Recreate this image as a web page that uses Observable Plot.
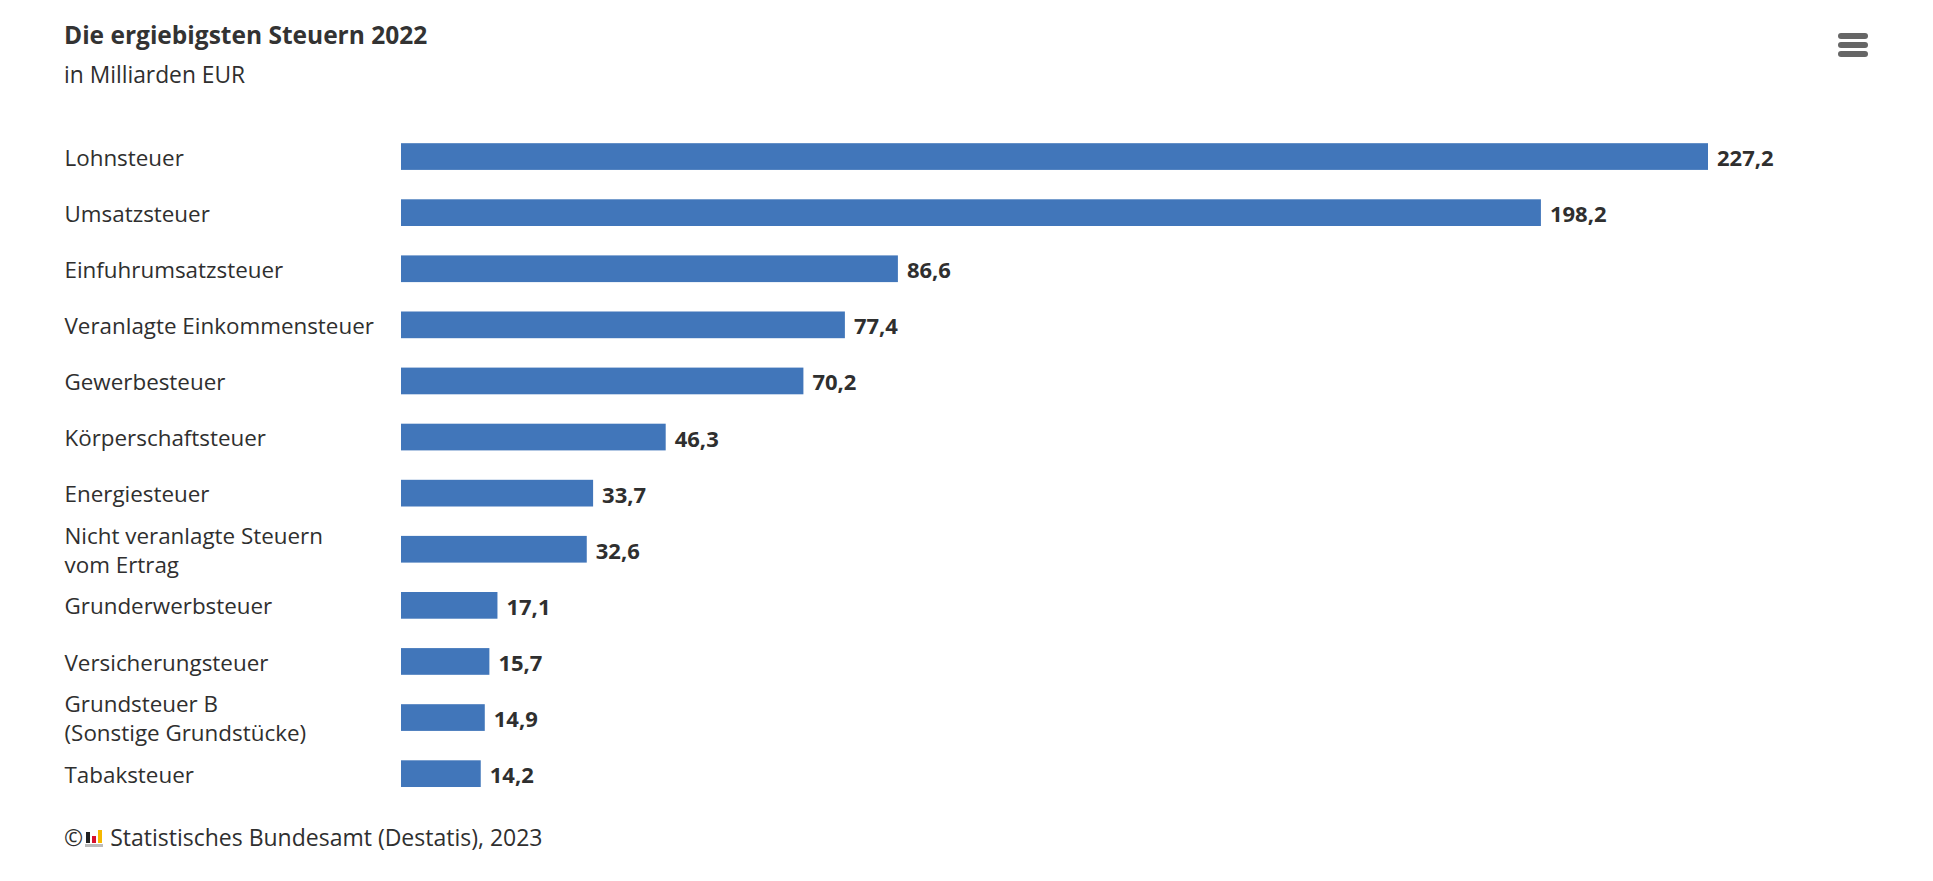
<!DOCTYPE html>
<html lang="de"><head><meta charset="utf-8">
<script src="https://cdn.jsdelivr.net/npm/d3@7"></script>
<script src="https://cdn.jsdelivr.net/npm/@observablehq/plot@0.6"></script>
<style>
html,body{margin:0;padding:0;background:#fff;overflow:hidden}
body{width:1933px;height:881px;position:relative;font-family:"Open Sans",sans-serif;color:#2f2f2f}
#chart{position:absolute;left:0;top:0}
.t{position:absolute;white-space:nowrap;line-height:1}
#title{left:64px;top:23px;font-size:24.5px;font-weight:700;color:#333}
#sub{left:64px;top:64px;font-size:22.8px}
#foot{left:64px;top:826px;font-size:23px;display:flex;align-items:center}
#logo{display:inline-flex;align-items:flex-end;width:18px;height:19px;margin:0 7px 0 2px;border-bottom:3px solid #bbb;box-sizing:border-box;gap:2px;padding:0 0 1px 1px}
#logo i{display:block;width:4px}
#menu{position:absolute;left:1838px;top:33px;width:30px}
#menu i{display:block;height:6px;border-radius:3px;background:#666;margin-bottom:3px}
</style></head><body>
<div id="chart"></div>
<div class="t" id="title">Die ergiebigsten Steuern 2022</div>
<div class="t" id="sub">in Milliarden EUR</div>
<div class="t" id="foot">©<span id="logo"><i style="background:#222;height:11px"></i><i style="background:#d8102c;height:7px"></i><i style="background:#f5b800;height:13px"></i></span>Statistisches Bundesamt (Destatis), 2023</div>
<div id="menu"><i></i><i></i><i></i></div>
<script>
const categories = ["Lohnsteuer","Umsatzsteuer","Einfuhrumsatzsteuer","Veranlagte Einkommensteuer","Gewerbesteuer","Körperschaftsteuer","Energiesteuer","Nicht veranlagte Steuern\nvom Ertrag","Grunderwerbsteuer","Versicherungsteuer","Grundsteuer B\n(Sonstige Grundstücke)","Tabaksteuer"];
const values = [227.2,198.2,86.6,77.4,70.2,46.3,33.7,32.6,17.1,15.7,14.9,14.2];
const rows = categories.map((name,i)=>({name,value:values[i]}));
const fmt = v => v.toFixed(1).replace(".",",");
const fontFamily = '"Open Sans",sans-serif';
const plot = Plot.plot({
  width:1933,height:881,
  marginLeft:401,marginRight:225,marginTop:113.8,marginBottom:64.6,
  style:{fontFamily,background:"transparent"},
  x:{domain:[0.36,227.2],clamp:true,axis:null},
  y:{domain:categories,padding:.524,round:false,axis:null},
  marks:[
    Plot.barX(rows,{x:"value",y:"name",fill:"#4176ba"}),
    Plot.text(rows,{x:"value",y:"name",text:d=>fmt(d.value),textAnchor:"start",dx:8.5,dy:2,fontSize:22,fontWeight:700,fill:"#2f2f2f"}),
    Plot.text(rows,{y:"name",frameAnchor:"left",text:"name",textAnchor:"start",dx:-337,dy:-0.5,fontSize:22.4,lineHeight:1.27,fill:"#2f2f2f"})
  ]
});
document.getElementById("chart").append(plot);
</script>
</body></html>
